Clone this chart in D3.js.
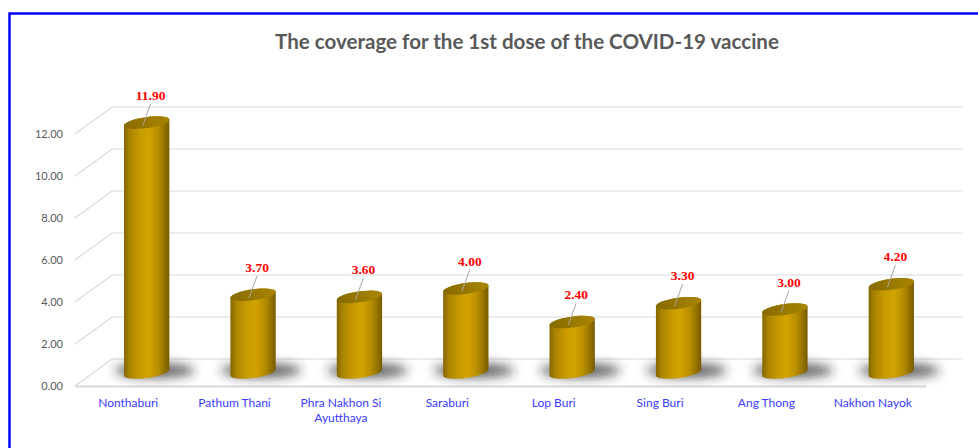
<!DOCTYPE html>
<html>
<head>
<meta charset="utf-8">
<script src="https://cdn.jsdelivr.net/npm/d3@7"></script>
<style>
  html, body { margin: 0; padding: 0; background: #fff; }
  svg { display: block; }
</style>
</head>
<body>
<svg id="chart" width="978" height="448"></svg>
<script>
// Provinces and first-dose coverage values
const categories = ["Nonthaburi", "Pathum Thani", "Phra Nakhon Si Ayutthaya", "Saraburi",
                    "Lop Buri", "Sing Buri", "Ang Thong", "Nakhon Nayok"];
const coverage = [11.90, 3.70, 3.60, 4.00, 2.40, 3.30, 3.00, 4.20];
const yTicks = [0, 2, 4, 6, 8, 10, 12];
const titleText = "The coverage for the 1st dose of the COVID-19 vaccine";

const svg = d3.select("#chart");
const W = 978, H = 448;

// 3D plot geometry: front plane, depth offset for the back wall
const front = { left: 75, right: 926 };
const depth = { dx: 37, dy: -27 };

const y = d3.scaleLinear().domain([0, 12]).range([386, 134]);
const x = d3.scaleBand().domain(categories).range([front.left, front.right]);

const defs = svg.append("defs");

// Cylinder side shading
const side = defs.append("linearGradient").attr("id", "cylSide")
  .attr("x1", 0).attr("x2", 1).attr("y1", 0).attr("y2", 0);
[[0, "#836500"], [0.12, "#a98300"], [0.35, "#c89a00"], [0.55, "#d3a300"],
 [0.75, "#b88e00"], [0.92, "#8d6d00"], [1, "#765a00"]].forEach(([o, c]) =>
  side.append("stop").attr("offset", o).attr("stop-color", c));

const topG = defs.append("linearGradient").attr("id", "cylTop")
  .attr("x1", 0).attr("x2", 1).attr("y1", 0).attr("y2", 0);
[[0, "#876a00"], [0.6, "#9b7b00"], [1, "#a98500"]].forEach(([o, c]) =>
  topG.append("stop").attr("offset", o).attr("stop-color", c));

defs.append("filter").attr("id", "shadowBlur")
  .attr("x", "-50%").attr("y", "-300%").attr("width", "200%").attr("height", "700%")
  .append("feGaussianBlur").attr("stdDeviation", 5.5);

// Background and blue frame
svg.append("rect").attr("width", W).attr("height", H).attr("fill", "#fff");
svg.append("path")
  .attr("d", `M9.5,${H} L9.5,13.5 L${W},13.5`)
  .attr("fill", "none").attr("stroke", "#0000ff").attr("stroke-width", 2.5);

// Title
const title = svg.append("text")
  .attr("x", 527).attr("y", 49)
  .attr("text-anchor", "middle")
  .attr("font-family", "Lato, 'Open Sans', sans-serif")
  .attr("font-weight", "bold")
  .attr("font-size", 18)
  .attr("fill", "#595959")
  .text(titleText);
const tw = title.node().getComputedTextLength();
title.attr("font-size", 18 * 504 / tw);

// Gridlines: side wall diagonal + back wall horizontal
const grid = svg.append("g");
yTicks.forEach(t => {
  const yf = y(t), yb = y(t) + depth.dy;
  grid.append("path")
    .attr("d", `M${front.left},${yf} L${front.left + depth.dx},${yb} L${front.right + depth.dx},${yb}`)
    .attr("fill", "none").attr("stroke", "#d9d9d9").attr("stroke-width", 1.2);
});
// Floor front edge
grid.append("line")
  .attr("x1", front.left).attr("x2", front.right)
  .attr("y1", y(0) + 0.5).attr("y2", y(0) + 0.5)
  .attr("stroke", "#d9d9d9").attr("stroke-width", 2);

// Y axis labels
svg.append("g").selectAll("text").data(yTicks).join("text")
  .attr("x", 63).attr("y", d => y(d) + 4)
  .attr("text-anchor", "end")
  .attr("font-family", "Lato, 'Open Sans', sans-serif")
  .attr("font-size", 11)
  .attr("fill", "#595959")
  .text(d => d3.format(".2f")(d));

// Cylinders sit at mid depth
const midDx = depth.dx / 2, midDy = depth.dy / 2;
const rx = x.bandwidth() * 0.215, ry = 5.5, rot = -8;
const rad = rot * Math.PI / 180;
const ex = rx * Math.cos(rad), ey = rx * Math.sin(rad);

const bars = categories.map((c, i) => {
  const cx = x(c) + x.bandwidth() / 2 + midDx;
  return { c, v: coverage[i], cx, yb: y(0) + midDy, yt: y(coverage[i]) + midDy };
});

// Soft floor shadows, thrown slightly back and to the right
const shadows = svg.append("g").attr("filter", "url(#shadowBlur)");
bars.forEach(b => {
  shadows.append("ellipse")
    .attr("cx", b.cx + 8).attr("cy", b.yb - 2)
    .attr("rx", rx * 1.75).attr("ry", 7)
    .attr("fill", "#2a2a2a").attr("opacity", 0.75);
});

const cyl = svg.append("g");
bars.forEach(b => {
  const lx = b.cx - ex, ly = -ey, rxp = b.cx + ex, ryp = ey;
  const d = `M${lx},${b.yt + ly} L${lx},${b.yb + ly}` +
            ` A${rx},${ry} ${rot} 0 0 ${rxp},${b.yb + ryp}` +
            ` L${rxp},${b.yt + ryp}` +
            ` A${rx},${ry} ${rot} 0 0 ${lx},${b.yt + ly} Z`;
  cyl.append("path").attr("d", d).attr("fill", "url(#cylSide)");
  cyl.append("ellipse")
    .attr("cx", b.cx).attr("cy", b.yt)
    .attr("rx", rx).attr("ry", ry)
    .attr("transform", `rotate(${rot},${b.cx},${b.yt})`)
    .attr("fill", "url(#cylTop)");
});

// Data labels with leader lines
const labels = svg.append("g");
bars.forEach(b => {
  const lxp = b.cx + 4, lyp = b.yt - 23;
  labels.append("line")
    .attr("x1", lxp).attr("y1", lyp + 4)
    .attr("x2", b.cx - 4).attr("y2", b.yt + 3)
    .attr("stroke", "#a6a6a6").attr("stroke-width", 1);
  labels.append("text")
    .attr("x", lxp).attr("y", lyp)
    .attr("text-anchor", "middle")
    .attr("font-family", "'Liberation Serif', 'Times New Roman', serif")
    .attr("font-weight", "bold")
    .attr("font-size", 13.5)
    .attr("fill", "#ff0000")
    .text(d3.format(".2f")(b.v));
});

// Category labels, wrapped to the band width
const catFont = "Lato, 'Open Sans', sans-serif";
const catG = svg.append("g");
categories.forEach(c => {
  const cxl = x(c) + x.bandwidth() / 2;
  const t = catG.append("text")
    .attr("x", cxl)
    .attr("y", 407)
    .attr("text-anchor", "middle")
    .attr("font-family", catFont)
    .attr("font-size", 12)
    .attr("fill", "#3a3aff");
  const words = c.split(" ");
  let line = [], lines = [];
  const probe = svg.append("text").attr("font-family", catFont).attr("font-size", 12);
  words.forEach(w => {
    const test = line.concat(w).join(" ");
    probe.text(test);
    if (line.length && probe.node().getComputedTextLength() > 92) {
      lines.push(line.join(" ")); line = [w];
    } else line.push(w);
  });
  lines.push(line.join(" "));
  probe.remove();
  lines.forEach((l, i) => t.append("tspan")
    .attr("x", cxl).attr("dy", i ? 15 : 0).text(l));
});
</script>
</body>
</html>
